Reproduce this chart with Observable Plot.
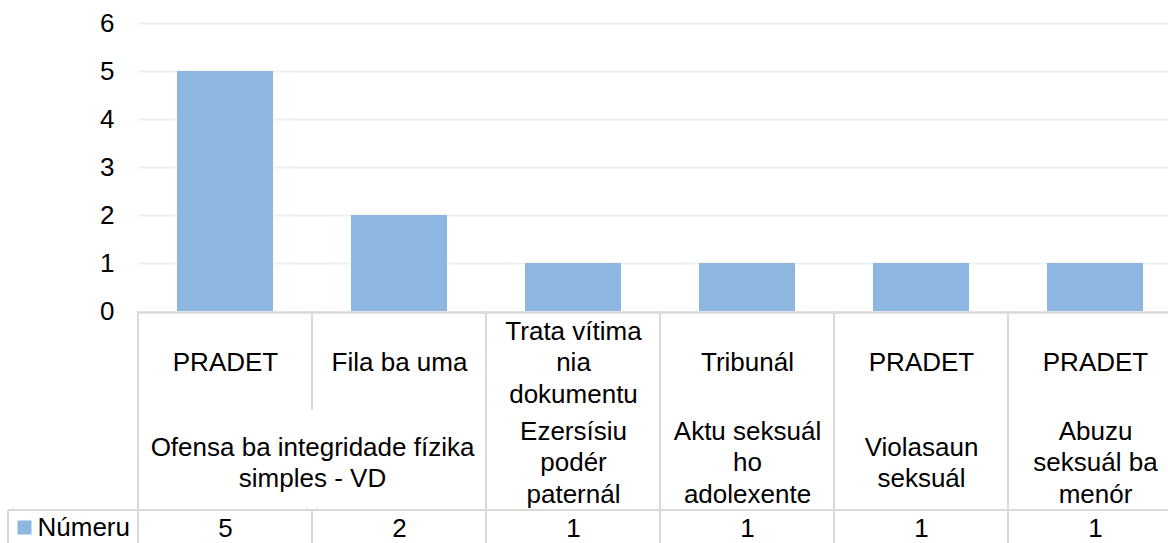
<!DOCTYPE html>
<html><head><meta charset="utf-8">
<script src="https://cdn.jsdelivr.net/npm/d3@7"></script>
<script src="https://cdn.jsdelivr.net/npm/@observablehq/plot@0.6"></script>
<style>
html,body{margin:0;padding:0;background:#fff;overflow:hidden;}
#chart{width:1168px;height:543px;overflow:hidden;}
</style></head><body><div id="chart"></div>
<script>
// ---- data ----
const categoryIds = ["c1","c2","c3","c4","c5","c6"];
const subcategories = ["PRADET","Fila ba uma","Trata vítima\nnia\ndokumentu","Tribunál","PRADET","PRADET"];
const groupLabels = ["Ofensa ba integridade fízika\nsimples - VD","Ezersísiu\npodér\npaternál","Aktu seksuál\nho\nadolexente","Violasaun\nseksuál","Abuzu\nseksuál ba\nmenór"];
const groupSpans = [2,1,1,1,1];
const values = [5,2,1,1,1,1];
const seriesName = "Númeru";
const yTicks = [0,1,2,3,4,5,6];

// ---- layout ----
const W = 1168, H = 543, ML = 138, MT = 23, MB = 232;
const BAND = 174;
const ROW1 = 99, ROW2 = 199;
const BAR = "#8db7e1", GRID = "#efefef", LINE = "#d9d9d9";
const FONT = "'Liberation Sans', Arial, sans-serif";

const groupIndex = [];
groupSpans.forEach((s, g) => { for (let k = 0; k < s; k++) groupIndex.push(g); });
const rows = categoryIds.map((id, i) => ({id, sub: subcategories[i], value: values[i], group: groupIndex[i]}));
let start = 0;
const groupRows = groupLabels.map((label, g) => { const r = {id: categoryIds[start], label, span: groupSpans[g]}; start += groupSpans[g]; return r; });

function tableGrid(index, scales, vals, dims) {
  const x = scales.x;
  const {width, height, marginBottom, marginLeft} = dims;
  const y0 = height - marginBottom;
  const g = d3.create("svg:g").attr("stroke", LINE).attr("stroke-width", 2).attr("fill", "none");
  const line = (x1, y1, x2, y2) => g.append("line").attr("x1", x1).attr("y1", y1).attr("x2", x2).attr("y2", y2);
  line(marginLeft, y0 + 1.5, width, y0 + 1.5).attr("stroke-width", 2.5);
  line(8, y0 + ROW2, width, y0 + ROW2);
  line(marginLeft, y0, marginLeft, height);
  line(8, y0 + ROW2, 8, height);
  categoryIds.forEach((id, i) => {
    if (i === 0) return;
    const xx = x(id);
    if (groupIndex[i] !== groupIndex[i - 1]) line(xx, y0, xx, height);
    else { line(xx, y0, xx, y0 + ROW1); line(xx, y0 + ROW2, xx, height); }
  });
  return g.node();
}

const textBase = {fontSize: 26, lineHeight: 1.2, lineAnchor: "middle", fill: "#000", frameAnchor: "bottom"};

const chart = Plot.plot({
  width: W, height: H,
  marginLeft: ML, marginRight: 0, marginTop: MT, marginBottom: MB,
  style: {fontFamily: FONT, fontSize: "26px", color: "#000", background: "#fff", maxWidth: "none", overflow: "visible"},
  x: {type: "band", domain: categoryIds, range: [ML, ML + BAND * categoryIds.length], padding: 0, axis: null},
  y: {domain: [0, 6], axis: null},
  marks: [
    Plot.gridY(yTicks.filter(v => v > 0), {stroke: GRID, strokeOpacity: 1, strokeWidth: 2}),
    Plot.barY(rows, {x: "id", y: "value", fill: BAR, insetLeft: 39, insetRight: 39}),
    Plot.axisY(yTicks, {tickSize: 0, tickPadding: 24, fontSize: 26, label: null, fill: "#000"}),
    tableGrid,
    Plot.text(rows, {...textBase, x: "id", text: "sub", dy: 50}),
    ...[1, 2].map(span => Plot.text(groupRows.filter(d => d.span === span), {...textBase, x: "id", text: "label", dy: 150, dx: (span - 1) * BAND / 2})),
    Plot.text(rows, {...textBase, x: "id", text: d => String(d.value), dy: 216}),
    Plot.dot([seriesName], {frameAnchor: "bottom-left", dx: -114, dy: 216, symbol: "square", r: 7.9, fill: BAR, stroke: null}),
    Plot.text([seriesName], {fontSize: 26, fill: "#000", frameAnchor: "bottom-left", lineAnchor: "middle", textAnchor: "start", dx: -101, dy: 216, text: d => d})
  ]
});
document.getElementById("chart").appendChild(chart);
</script></body></html>
